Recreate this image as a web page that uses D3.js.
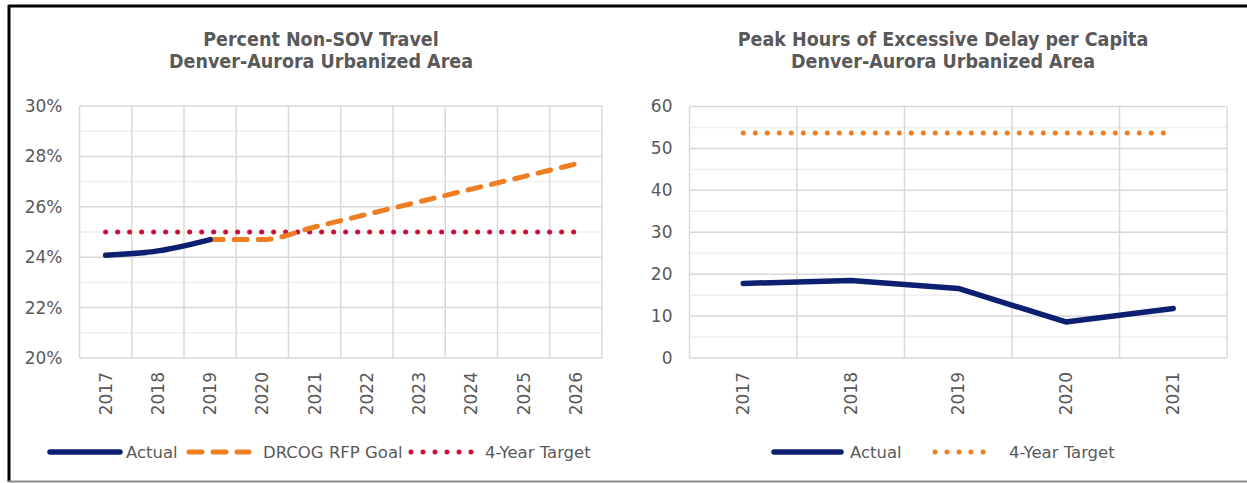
<!DOCTYPE html>
<html>
<head>
<meta charset="utf-8">
<script src="https://cdn.jsdelivr.net/npm/d3@7"></script>
<style>
  body { margin: 0; background: #fff; }
  svg { display: block; font-family: "DejaVu Sans", sans-serif; }
</style>
</head>
<body>
<svg id="chart" width="1247" height="483"></svg>
<script>
// left chart: percent non-SOV travel
var sovYears = ["2017", "2018", "2019", "2020", "2021", "2022", "2023", "2024", "2025", "2026"];
var sovActual = [24.08, 24.25, 24.7];
var sovGoal = [null, null, 24.7, 24.7, 25.2, 25.7, 26.2, 26.7, 27.2, 27.7];
var sovTarget = [25, 25, 25, 25, 25, 25, 25, 25, 25, 25];
var sovTicks = [20, 22, 24, 26, 28, 30];

// right chart: peak hours of excessive delay
var delayYears = ["2017", "2018", "2019", "2020", "2021"];
var delayActual = [17.8, 18.5, 16.6, 8.6, 11.8];
var delayTarget = [53.7, 53.7, 53.7, 53.7, 53.7];
var delayTicks = [0, 10, 20, 30, 40, 50, 60];

var navy = "#0c1f70", orange = "#ef7d22", crimson = "#c8103a";
var textCol = "#595959", gridCol = "#d9d9d9", minorCol = "#efefef";
var tickSize = 17, legendSize = 16.5;

var svg = d3.select("#chart");

// outer frame
svg.append("line").attr("x1", 8.5).attr("x2", 1247).attr("y1", 6).attr("y2", 6)
  .attr("stroke", "#000").attr("stroke-width", 3);
svg.append("line").attr("x1", 9).attr("x2", 9).attr("y1", 5).attr("y2", 482)
  .attr("stroke", "#000").attr("stroke-width", 3);
svg.append("line").attr("x1", 8).attr("x2", 1247).attr("y1", 481.5).attr("y2", 481.5)
  .attr("stroke", "#8a8a8a").attr("stroke-width", 2);

function drawChart(opt) {
  var g = svg.append("g");

  var x = d3.scaleBand().domain(opt.years).range([opt.left, opt.right]);
  var y = d3.scaleLinear().domain([opt.ticks[0], opt.ticks[opt.ticks.length - 1]])
    .range([opt.bottom, opt.top]);

  // title
  g.append("text").attr("x", opt.titleX).attr("y", 46)
    .attr("text-anchor", "middle").attr("fill", textCol)
    .attr("font-family", "DejaVu Sans Condensed")
    .attr("font-weight", "bold").attr("font-size", 19.5)
    .text(opt.title1);
  g.append("text").attr("x", opt.titleX).attr("y", 68)
    .attr("text-anchor", "middle").attr("fill", textCol)
    .attr("font-family", "DejaVu Sans Condensed")
    .attr("font-weight", "bold").attr("font-size", 19.5)
    .text(opt.title2);

  // minor gridlines
  var minor = [];
  for (var i = 0; i < opt.ticks.length - 1; i++) {
    minor.push((opt.ticks[i] + opt.ticks[i + 1]) / 2);
  }
  g.selectAll(".minor").data(minor).enter().append("line")
    .attr("x1", opt.left).attr("x2", opt.right)
    .attr("y1", function(d) { return y(d); }).attr("y2", function(d) { return y(d); })
    .attr("stroke", minorCol).attr("stroke-width", 1.5);

  // major gridlines
  g.selectAll(".major").data(opt.ticks).enter().append("line")
    .attr("x1", opt.left).attr("x2", opt.right)
    .attr("y1", function(d) { return y(d); }).attr("y2", function(d) { return y(d); })
    .attr("stroke", gridCol).attr("stroke-width", 1.5);

  // vertical gridlines at category edges
  var edges = opt.years.map(function(d) { return x(d); }).concat([opt.right]);
  g.selectAll(".vgrid").data(edges).enter().append("line")
    .attr("x1", function(d) { return d; }).attr("x2", function(d) { return d; })
    .attr("y1", opt.top).attr("y2", opt.bottom)
    .attr("stroke", gridCol).attr("stroke-width", 1.5);

  // y axis labels
  var yAxis = d3.axisLeft(y).tickValues(opt.ticks).tickSize(0).tickPadding(0)
    .tickFormat(opt.fmt);
  var ya = g.append("g").attr("transform", "translate(" + (opt.left - 17) + ",0)").call(yAxis);
  ya.select(".domain").remove();
  ya.selectAll("text").attr("fill", textCol).attr("font-size", tickSize)
    .attr("font-family", "DejaVu Sans");

  // x axis labels (rotated)
  var xAxis = d3.axisBottom(x).tickSize(0).tickPadding(0);
  var xa = g.append("g").attr("transform", "translate(0," + opt.bottom + ")").call(xAxis);
  xa.select(".domain").remove();
  xa.selectAll("text").attr("fill", textCol).attr("font-size", tickSize)
    .attr("font-family", "DejaVu Sans")
    .attr("transform", "rotate(-90)")
    .attr("text-anchor", "end")
    .attr("x", -14).attr("y", 0).attr("dy", "0.35em");

  // series
  opt.series.forEach(function(s) {
    var line = d3.line()
      .defined(function(d) { return d != null; })
      .x(function(d, i) { return x(opt.years[i]) + x.bandwidth() / 2; })
      .y(function(d) { return y(d); })
      .curve(s.smooth ? d3.curveMonotoneX : d3.curveLinear);
    g.append("path").datum(s.values)
      .attr("d", line)
      .attr("fill", "none")
      .attr("stroke", s.color)
      .attr("stroke-width", s.width)
      .attr("stroke-linecap", "round")
      .attr("stroke-linejoin", "round")
      .attr("stroke-dasharray", s.dash);
  });

  // legend
  opt.series.forEach(function(s) {
    g.append("line").attr("x1", s.leg[0]).attr("x2", s.leg[1])
      .attr("y1", 452).attr("y2", 452)
      .attr("stroke", s.color).attr("stroke-width", s.width)
      .attr("stroke-linecap", "round")
      .attr("stroke-dasharray", s.dash);
    g.append("text").attr("x", s.leg[2]).attr("y", 458)
      .attr("fill", textCol).attr("font-size", legendSize).text(s.name);
  });
}

drawChart({
  years: sovYears, ticks: sovTicks,
  left: 79.5, right: 602, top: 106, bottom: 358,
  fmt: function(d) { return d + "%"; },
  title1: "Percent Non-SOV Travel", title2: "Denver-Aurora Urbanized Area", titleX: 321,
  series: [
    {name: "4-Year Target", values: sovTarget, color: crimson, width: 5, dash: "0 12", smooth: false,
     leg: [411, 472, 485]},
    {name: "DRCOG RFP Goal", values: sovGoal, color: orange, width: 5, dash: "13 11", smooth: true,
     leg: [189, 249, 263]},
    {name: "Actual", values: sovActual, color: navy, width: 5.5, dash: null, smooth: true,
     leg: [50, 120, 126]}
  ]
});

drawChart({
  years: delayYears, ticks: delayTicks,
  left: 689.5, right: 1227, top: 106.5, bottom: 358,
  fmt: function(d) { return d; },
  title1: "Peak Hours of Excessive Delay per Capita", title2: "Denver-Aurora Urbanized Area", titleX: 943,
  series: [
    {name: "4-Year Target", values: delayTarget, color: orange, width: 5, dash: "0 12", smooth: false,
     leg: [935, 995, 1009]},
    {name: "Actual", values: delayActual, color: navy, width: 5.5, dash: null, smooth: false,
     leg: [774, 841, 850]}
  ]
});
</script>
</body>
</html>
